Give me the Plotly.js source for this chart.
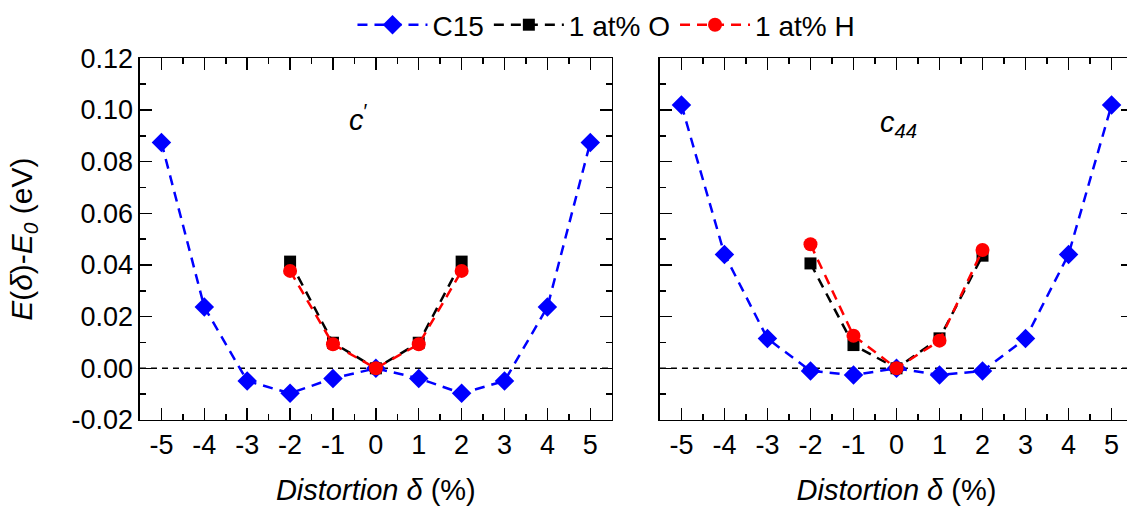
<!DOCTYPE html>
<html>
<head>
<meta charset="utf-8">
<script src="https://cdn.plot.ly/plotly-3.0.1.min.js"></script>
<style>
html,body{margin:0;padding:0;overflow:hidden;background:#fff;}
#chart{width:1140px;height:506px;}
</style>
</head>
<body>
<div id="chart"></div>
<script>
// distortion values (%)
const xC15 = [-5, -4, -3, -2, -1, 0, 1, 2, 3, 4, 5];
const xSolute = [-2, -1, 0, 1, 2];
// c' panel: E(delta)-E0 (eV)
const cpC15 = [0.0874, 0.0237, -0.0049, -0.0097, -0.0039, 0, -0.0039, -0.0097, -0.0049, 0.0237, 0.0874];
const cpO = [0.0413, 0.0099, 0, 0.0099, 0.0413];
const cpH = [0.0377, 0.0093, 0, 0.0093, 0.0377];
// c44 panel
const c44C15 = [0.1019, 0.0441, 0.0115, -0.0010, -0.0026, 0, -0.0026, -0.0010, 0.0115, 0.0441, 0.1019];
const c44O = [0.0406, 0.0090, 0, 0.0116, 0.0436];
const c44H = [0.0480, 0.0126, 0, 0.0107, 0.0458];
// series names
const seriesNames = ['C15', '1 at% O', '1 at% H'];
// tick labels
const xTickVals = [-5, -4, -3, -2, -1, 0, 1, 2, 3, 4, 5];
const xTickText = ['-5', '-4', '-3', '-2', '-1', '0', '1', '2', '3', '4', '5'];
const yTickVals = [-0.02, 0, 0.02, 0.04, 0.06, 0.08, 0.10, 0.12];
const yTickText = ['-0.02', '0.00', '0.02', '0.04', '0.06', '0.08', '0.10', '0.12'];

const FONT = 'Liberation Sans, Arial, sans-serif';
const dashL = '10px,7px';

function tr(x, y, name, color, symbol, size, xa, ya, show) {
  return {
    x: x, y: y, name: name, type: 'scatter', mode: 'lines+markers',
    xaxis: xa, yaxis: ya, showlegend: show,
    line: {color: color, width: 2.5, dash: dashL},
    marker: {color: color, symbol: symbol, size: size}
  };
}

const data = [
  tr(xC15, cpC15, seriesNames[0], '#0000ff', 'diamond', 15, 'x', 'y', true),
  tr(xSolute, cpO, seriesNames[1], '#000000', 'square', 12, 'x', 'y', true),
  tr(xSolute, cpH, seriesNames[2], '#ff0000', 'circle', 14, 'x', 'y', true),
  tr(xC15, c44C15, seriesNames[0], '#0000ff', 'diamond', 15, 'x2', 'y2', false),
  tr(xSolute, c44O, seriesNames[1], '#000000', 'square', 12, 'x2', 'y2', false),
  tr(xSolute, c44H, seriesNames[2], '#ff0000', 'circle', 14, 'x2', 'y2', false)
];

function xax(domain, anchor) {
  return {
    domain: domain, anchor: anchor, range: [-5.5, 5.5],
    tickmode: 'array', tickvals: xTickVals, ticktext: xTickText,
    ticks: 'inside', ticklen: 12, tickwidth: 1.5, tickcolor: '#000',
    showline: true, linewidth: 1.5, linecolor: '#000', mirror: 'allticks',
    showgrid: false, zeroline: false,
    tickfont: {family: FONT, size: 27, color: '#000'},
    minor: {tickmode: 'linear', tick0: 0, dtick: 0.5, ticks: 'inside', ticklen: 6, tickwidth: 1.5, tickcolor: '#000', showgrid: false},
    title: {text: '<i>Distortion δ</i> (%)', font: {family: FONT, size: 29, color: '#000'}, standoff: 22}
  };
}
function yax(anchor, showLabels, title) {
  const ax = {
    domain: [0.170, 0.8848], anchor: anchor, range: [-0.02, 0.12],
    tickmode: 'array', tickvals: yTickVals, ticktext: yTickText, showticklabels: showLabels,
    ticks: 'inside', ticklen: 12, tickwidth: 1.5, tickcolor: '#000',
    showline: true, linewidth: 1.5, linecolor: '#000', mirror: 'allticks',
    showgrid: false, zeroline: false,
    tickfont: {family: FONT, size: 27, color: '#000'},
    minor: {tickmode: 'linear', tick0: 0, dtick: 0.01, ticks: 'inside', ticklen: 6, tickwidth: 1.5, tickcolor: '#000', showgrid: false}
  };
  if (title) ax.title = {text: title, font: {family: FONT, size: 30, color: '#000'}, standoff: 30};
  return ax;
}

const layout = {
  width: 1140, height: 506,
  margin: {l: 0, r: 0, t: 0, b: 0},
  paper_bgcolor: '#fff', plot_bgcolor: '#fff',
  font: {family: FONT, color: '#000'},
  xaxis: xax([0.1228, 0.5366], 'y'),
  yaxis: yax('x', true, '<i>E</i>(<i>δ</i>)-<i>E<sub>0</sub></i> (eV)'),
  xaxis2: xax([0.5789, 0.9939], 'y2'),
  yaxis2: yax('x2', false, null),
  showlegend: true,
  legend: {
    orientation: 'h', x: 0.532, xanchor: 'center', y: 1.0, yanchor: 'top',
    font: {family: FONT, size: 28, color: '#000'}, itemwidth: 70,
    bgcolor: 'rgba(0,0,0,0)'
  },
  shapes: [
    {type: 'line', xref: 'x domain', yref: 'y', x0: 0, x1: 1, y0: 0, y1: 0, layer: 'below',
     line: {color: '#000', width: 1.5, dash: '6px,5px'}},
    {type: 'line', xref: 'x2 domain', yref: 'y2', x0: 0, x1: 1, y0: 0, y1: 0, layer: 'below',
     line: {color: '#000', width: 1.5, dash: '6px,5px'}}
  ],
  annotations: [
    {xref: 'x', yref: 'y', x: -0.4, y: 0.097, text: '<i>c</i><sup>′</sup>', showarrow: false,
     font: {family: FONT, size: 29, color: '#000'}},
    {xref: 'x2', yref: 'y2', x: 0.05, y: 0.0945, text: '<i>c<sub>44</sub></i>', showarrow: false,
     font: {family: FONT, size: 29, color: '#000'}}
  ]
};

Plotly.newPlot('chart', data, layout, {displayModeBar: false, staticPlot: true});
</script>
</body>
</html>
